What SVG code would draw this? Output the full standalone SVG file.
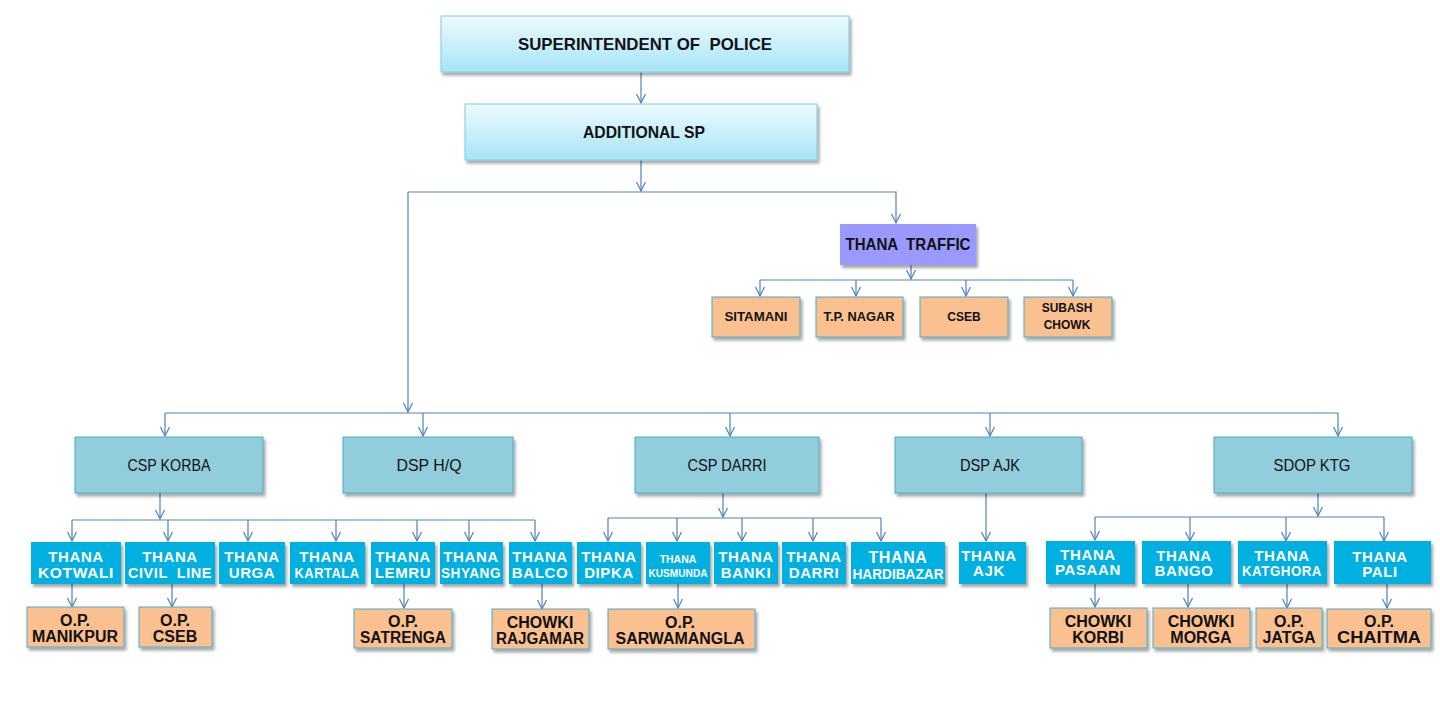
<svg xmlns="http://www.w3.org/2000/svg" width="1440" height="720" viewBox="0 0 1440 720">
<defs>
<linearGradient id="topg" x1="0" y1="0" x2="0" y2="1">
<stop offset="0" stop-color="#eefbff"/>
<stop offset="1" stop-color="#a6e4f6"/>
</linearGradient>
<filter id="sh" x="-10%" y="-20%" width="125%" height="150%">
<feDropShadow dx="2" dy="3" stdDeviation="1.8" flood-color="#000" flood-opacity="0.35"/>
</filter>
<marker id="ar" viewBox="-1 -6 12 12" refX="9" refY="0" markerWidth="12" markerHeight="12" markerUnits="userSpaceOnUse" orient="auto">
<path d="M0,-4.5 L9,0 L0,4.5" fill="none" stroke="#4f81bd" stroke-width="1.2"/>
</marker>
</defs>
<style>
.top{fill:url(#topg);stroke:#7ccadf;stroke-width:1;filter:url(#sh)}
.lv2{fill:#92cddc;stroke:#4bacc6;stroke-width:1;filter:url(#sh)}
.tr{fill:#9999ff;filter:url(#sh)}
.th{fill:#00b0e0;filter:url(#sh)}
.or{fill:#fac090;stroke:#4bacc6;stroke-width:1;filter:url(#sh)}
.t1{font-family:"Liberation Sans",Arial,sans-serif;font-size:17px;font-weight:bold;fill:#111;text-anchor:middle}
.t2{font-family:"Liberation Sans",Arial,sans-serif;font-size:17px;fill:#111;text-anchor:middle}
.tt{font-family:"Liberation Sans",Arial,sans-serif;font-size:17px;font-weight:bold;fill:#111;text-anchor:middle}
.tl{font-family:"Liberation Sans",Arial,sans-serif;font-size:12px;font-weight:bold;fill:#111;text-anchor:middle}
.tw{font-family:"Liberation Sans",Arial,sans-serif;font-size:15px;font-weight:bold;fill:#fff;text-anchor:middle;letter-spacing:0.6px}
.tk{font-family:"Liberation Sans",Arial,sans-serif;font-size:16px;font-weight:bold;fill:#111;text-anchor:middle}
.c{fill:none;stroke:#4f81bd;stroke-width:1.2}
</style>
<rect width="1440" height="720" fill="#fff"/>

<g id="connectors">
<path class="c" d="M641,72 V103" marker-end="url(#ar)"/>
<path class="c" d="M641,160 V191" marker-end="url(#ar)"/>
<path class="c" d="M408,192 H896 V223" marker-end="url(#ar)"/>
<path class="c" d="M408,192 V412" marker-end="url(#ar)"/>
<path class="c" d="M165,413 H1338"/>
<path class="c" d="M165,413 V436" marker-end="url(#ar)"/>
<path class="c" d="M423,413 V436" marker-end="url(#ar)"/>
<path class="c" d="M730,413 V436" marker-end="url(#ar)"/>
<path class="c" d="M990,413 V436" marker-end="url(#ar)"/>
<path class="c" d="M1338,413 V436" marker-end="url(#ar)"/>
<path class="c" d="M911,265 V279" marker-end="url(#ar)"/>
<path class="c" d="M760,280 H1073"/>
<path class="c" d="M760,280 V296" marker-end="url(#ar)"/>
<path class="c" d="M856,280 V296" marker-end="url(#ar)"/>
<path class="c" d="M966,280 V296" marker-end="url(#ar)"/>
<path class="c" d="M1073,280 V296" marker-end="url(#ar)"/>
<path class="c" d="M160,493 V519" marker-end="url(#ar)"/>
<path class="c" d="M72,520 H535"/>
<path class="c" d="M72,520 V541" marker-end="url(#ar)"/>
<path class="c" d="M168,520 V541" marker-end="url(#ar)"/>
<path class="c" d="M248,520 V541" marker-end="url(#ar)"/>
<path class="c" d="M336,520 V541" marker-end="url(#ar)"/>
<path class="c" d="M417,520 V541" marker-end="url(#ar)"/>
<path class="c" d="M469,520 V541" marker-end="url(#ar)"/>
<path class="c" d="M535,520 V541" marker-end="url(#ar)"/>
<path class="c" d="M723,493 V517" marker-end="url(#ar)"/>
<path class="c" d="M608,518 H881"/>
<path class="c" d="M608,518 V541" marker-end="url(#ar)"/>
<path class="c" d="M677,518 V541" marker-end="url(#ar)"/>
<path class="c" d="M742,518 V541" marker-end="url(#ar)"/>
<path class="c" d="M813,518 V541" marker-end="url(#ar)"/>
<path class="c" d="M881,518 V541" marker-end="url(#ar)"/>
<path class="c" d="M986,493 V541" marker-end="url(#ar)"/>
<path class="c" d="M1318,493 V516" marker-end="url(#ar)"/>
<path class="c" d="M1095,517 H1384"/>
<path class="c" d="M1095,517 V540" marker-end="url(#ar)"/>
<path class="c" d="M1190,517 V541" marker-end="url(#ar)"/>
<path class="c" d="M1286,517 V541" marker-end="url(#ar)"/>
<path class="c" d="M1384,517 V541" marker-end="url(#ar)"/>
<path class="c" d="M72,584 V607" marker-end="url(#ar)"/>
<path class="c" d="M172,584 V607" marker-end="url(#ar)"/>
<path class="c" d="M404,584 V608" marker-end="url(#ar)"/>
<path class="c" d="M542,584 V609" marker-end="url(#ar)"/>
<path class="c" d="M678,584 V608" marker-end="url(#ar)"/>
<path class="c" d="M1095,584 V607" marker-end="url(#ar)"/>
<path class="c" d="M1188,584 V607" marker-end="url(#ar)"/>
<path class="c" d="M1287,584 V608" marker-end="url(#ar)"/>
<path class="c" d="M1387,584 V608" marker-end="url(#ar)"/>
</g>

<g id="sp"><rect class="top" x="441" y="16" width="408" height="56"/><text class="t1" x="645" y="50" textLength="254" lengthAdjust="spacingAndGlyphs" xml:space="preserve">SUPERINTENDENT OF  POLICE</text></g>
<g id="addl-sp"><rect class="top" x="465" y="104" width="352" height="56"/><text class="t1" x="644" y="138" textLength="122" lengthAdjust="spacingAndGlyphs">ADDITIONAL SP</text></g>

<g id="thana-traffic"><rect class="tr" x="840" y="224" width="136" height="41"/><text class="tt" x="908" y="250" textLength="125" lengthAdjust="spacingAndGlyphs" xml:space="preserve">THANA  TRAFFIC</text></g>
<g id="sitamani"><rect class="or" x="712" y="297" width="88" height="40"/><text class="tl" x="756" y="321" textLength="63" lengthAdjust="spacingAndGlyphs">SITAMANI</text></g>
<g id="tp-nagar"><rect class="or" x="816" y="297" width="87" height="40"/><text class="tl" x="859" y="321" textLength="71" lengthAdjust="spacingAndGlyphs">T.P. NAGAR</text></g>
<g id="cseb"><rect class="or" x="920" y="297" width="88" height="40"/><text class="tl" x="964" y="321">CSEB</text></g>
<g id="subash-chowk"><rect class="or" x="1024" y="297" width="88" height="40"/><text class="tl" x="1067" y="312">SUBASH</text><text class="tl" x="1067" y="329">CHOWK</text></g>

<g id="csp-korba"><rect class="lv2" x="75" y="437" width="188" height="56"/><text class="t2" x="169" y="471" textLength="83" lengthAdjust="spacingAndGlyphs">CSP KORBA</text></g>
<g id="dsp-hq"><rect class="lv2" x="343" y="437" width="170" height="56"/><text class="t2" x="429" y="471" textLength="65" lengthAdjust="spacingAndGlyphs">DSP H/Q</text></g>
<g id="csp-darri"><rect class="lv2" x="635" y="437" width="184" height="56"/><text class="t2" x="727" y="471" textLength="79" lengthAdjust="spacingAndGlyphs">CSP DARRI</text></g>
<g id="dsp-ajk"><rect class="lv2" x="895" y="437" width="187" height="56"/><text class="t2" x="990" y="471" textLength="60" lengthAdjust="spacingAndGlyphs">DSP AJK</text></g>
<g id="sdop-ktg"><rect class="lv2" x="1214" y="437" width="198" height="56"/><text class="t2" x="1312" y="471" textLength="77" lengthAdjust="spacingAndGlyphs">SDOP KTG</text></g>

<g id="thana-kotwali"><rect class="th" x="31" y="542" width="90" height="42"/><text class="tw" x="76" y="562">THANA</text><text class="tw" x="76" y="578" textLength="76" lengthAdjust="spacingAndGlyphs">KOTWALI</text></g>
<g id="thana-civil-line"><rect class="th" x="125" y="542" width="90" height="42"/><text class="tw" x="170" y="562">THANA</text><text class="tw" x="170" y="578" textLength="84" lengthAdjust="spacingAndGlyphs" xml:space="preserve">CIVIL  LINE</text></g>
<g id="thana-urga"><rect class="th" x="219" y="542" width="66" height="42"/><text class="tw" x="252" y="562">THANA</text><text class="tw" x="252" y="578">URGA</text></g>
<g id="thana-kartala"><rect class="th" x="290" y="542" width="75" height="42"/><text class="tw" x="327" y="562">THANA</text><text class="tw" x="327" y="578" textLength="65" lengthAdjust="spacingAndGlyphs">KARTALA</text></g>
<g id="thana-lemru"><rect class="th" x="371" y="542" width="64" height="42"/><text class="tw" x="403" y="562">THANA</text><text class="tw" x="403" y="578">LEMRU</text></g>
<g id="thana-shyang"><rect class="th" x="440" y="542" width="63" height="42"/><text class="tw" x="471" y="562">THANA</text><text class="tw" x="471" y="578" textLength="60" lengthAdjust="spacingAndGlyphs">SHYANG</text></g>
<g id="thana-balco"><rect class="th" x="509" y="542" width="63" height="42"/><text class="tw" x="540" y="562">THANA</text><text class="tw" x="540" y="578">BALCO</text></g>
<g id="thana-dipka"><rect class="th" x="577" y="542" width="64" height="42"/><text class="tw" x="609" y="562">THANA</text><text class="tw" x="609" y="578">DIPKA</text></g>
<g id="thana-kusmunda"><rect class="th" x="646" y="542" width="64" height="42"/><text class="tw" x="678" y="563" style="font-size:10.5px;letter-spacing:0">THANA</text><text class="tw" x="678" y="577" style="font-size:10.5px;letter-spacing:0" textLength="59" lengthAdjust="spacingAndGlyphs">KUSMUNDA</text></g>
<g id="thana-banki"><rect class="th" x="714" y="542" width="64" height="42"/><text class="tw" x="746" y="562">THANA</text><text class="tw" x="746" y="578">BANKI</text></g>
<g id="thana-darri"><rect class="th" x="782" y="542" width="64" height="42"/><text class="tw" x="814" y="562">THANA</text><text class="tw" x="814" y="578">DARRI</text></g>
<g id="thana-hardibazar"><rect class="th" x="851" y="542" width="94" height="42"/><text class="tw" x="898" y="563" style="font-size:16px">THANA</text><text class="tw" x="898" y="579" style="font-size:15px;letter-spacing:0" textLength="91" lengthAdjust="spacingAndGlyphs">HARDIBAZAR</text></g>
<g id="thana-ajk"><rect class="th" x="959" y="542" width="67" height="42"/><text class="tw" x="989" y="561">THANA</text><text class="tw" x="989" y="576">AJK</text></g>
<g id="thana-pasaan"><rect class="th" x="1046" y="541" width="89" height="43"/><text class="tw" x="1088" y="560">THANA</text><text class="tw" x="1088" y="575">PASAAN</text></g>
<g id="thana-bango"><rect class="th" x="1142" y="541" width="89" height="43"/><text class="tw" x="1184" y="561">THANA</text><text class="tw" x="1184" y="576">BANGO</text></g>
<g id="thana-katghora"><rect class="th" x="1238" y="541" width="89" height="43"/><text class="tw" x="1282" y="561">THANA</text><text class="tw" x="1282" y="576" textLength="80" lengthAdjust="spacingAndGlyphs">KATGHORA</text></g>
<g id="thana-pali"><rect class="th" x="1334" y="541" width="97" height="43"/><text class="tw" x="1380" y="562">THANA</text><text class="tw" x="1380" y="577">PALI</text></g>

<g id="op-manikpur"><rect class="or" x="27" y="607" width="97" height="40"/><text class="tk" x="75" y="626">O.P.</text><text class="tk" x="75" y="642" textLength="86" lengthAdjust="spacingAndGlyphs">MANIKPUR</text></g>
<g id="op-cseb"><rect class="or" x="139" y="607" width="73" height="40"/><text class="tk" x="175" y="626">O.P.</text><text class="tk" x="175" y="642">CSEB</text></g>
<g id="op-satrenga"><rect class="or" x="354" y="609" width="98" height="39"/><text class="tk" x="403" y="627">O.P.</text><text class="tk" x="403" y="643" textLength="86" lengthAdjust="spacingAndGlyphs">SATRENGA</text></g>
<g id="chowki-rajgamar"><rect class="or" x="492" y="609" width="97" height="40"/><text class="tk" x="540" y="628">CHOWKI</text><text class="tk" x="540" y="644" textLength="88" lengthAdjust="spacingAndGlyphs">RAJGAMAR</text></g>
<g id="op-sarwamangla"><rect class="or" x="608" y="609" width="147" height="40"/><text class="tk" x="680" y="628">O.P.</text><text class="tk" x="680" y="644" textLength="129" lengthAdjust="spacingAndGlyphs">SARWAMANGLA</text></g>
<g id="chowki-korbi"><rect class="or" x="1050" y="608" width="97" height="40"/><text class="tk" x="1098" y="627">CHOWKI</text><text class="tk" x="1098" y="643">KORBI</text></g>
<g id="chowki-morga"><rect class="or" x="1153" y="608" width="97" height="40"/><text class="tk" x="1201" y="627">CHOWKI</text><text class="tk" x="1201" y="643">MORGA</text></g>
<g id="op-jatga"><rect class="or" x="1256" y="608" width="66" height="40"/><text class="tk" x="1289" y="627">O.P.</text><text class="tk" x="1289" y="643">JATGA</text></g>
<g id="op-chaitma"><rect class="or" x="1327" y="609" width="104" height="39"/><text class="tk" x="1379" y="627">O.P.</text><text class="tk" x="1379" y="643" textLength="84" lengthAdjust="spacingAndGlyphs">CHAITMA</text></g>
</svg>
